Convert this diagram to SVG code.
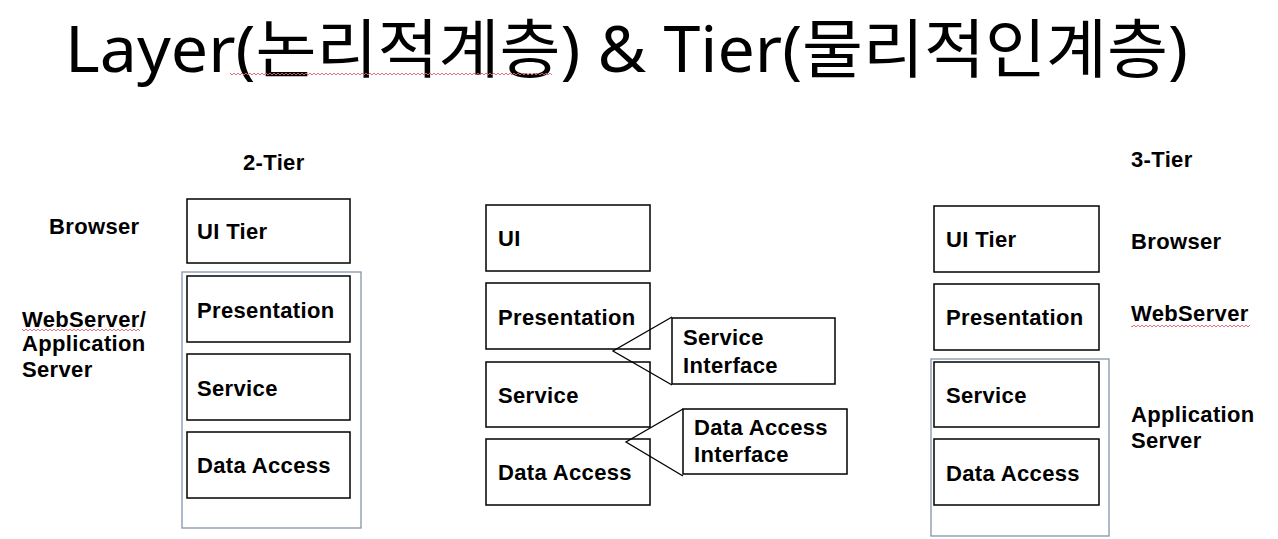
<svg xmlns="http://www.w3.org/2000/svg" width="1278" height="539" viewBox="0 0 1278 539">
<style>
.bg{fill:#ffffff}
.box{fill:#ffffff;stroke:#000000;stroke-width:1.5}
.outer{fill:none;stroke:#8496ad;stroke-width:1.3}
.lbl{font-family:"Liberation Sans","Noto Sans",sans-serif;font-weight:bold;font-size:22px;letter-spacing:0.35px;fill:#000000}
.title{font-family:"Noto Sans","Noto Sans CJK KR",sans-serif;font-size:64px;fill:#000000}
.conn{fill:none;stroke:#000000;stroke-width:1.3}
</style>
<defs>
<pattern id="wave" width="4" height="4" patternUnits="userSpaceOnUse">
<path d="M0,3 L2,1 L4,3" fill="none" stroke="#e06070" stroke-width="0.9"/>
</pattern>
</defs>
<rect class="bg" x="0" y="0" width="1278" height="539"/>
<g id="title">
<text class="title" x="65" y="72" textLength="1123" lengthAdjust="spacingAndGlyphs"><tspan font-family="Noto Sans, sans-serif">Layer(</tspan><tspan font-family="Noto Sans CJK KR, sans-serif">논리적계층</tspan><tspan font-family="Noto Sans, sans-serif">) &amp; Tier(</tspan><tspan font-family="Noto Sans CJK KR, sans-serif">물리적인계층</tspan><tspan font-family="Noto Sans, sans-serif">)</tspan></text>
<rect x="230" y="73" width="322" height="4" fill="url(#wave)"/>
</g>
<g id="two-tier">
<text class="lbl" x="243" y="170">2-Tier</text>
<text class="lbl" x="49" y="234">Browser</text>
<text class="lbl" x="22" y="327">WebServer/</text>
<rect x="22" y="329" width="118" height="4" fill="url(#wave)"/>
<text class="lbl" x="22" y="351">Application</text>
<text class="lbl" x="22" y="377">Server</text>
<rect class="outer" x="182" y="272" width="179" height="256"/>
<g id="l-ui"><rect class="box" x="187" y="199" width="163" height="64"/><text class="lbl" x="197" y="239">UI Tier</text></g>
<g id="l-pres"><rect class="box" x="187" y="276" width="163" height="66"/><text class="lbl" x="197" y="318">Presentation</text></g>
<g id="l-svc"><rect class="box" x="187" y="354" width="163" height="66"/><text class="lbl" x="197" y="396">Service</text></g>
<g id="l-da"><rect class="box" x="187" y="432" width="163" height="66"/><text class="lbl" x="197" y="473">Data Access</text></g>
</g>
<g id="layers">
<g id="m-ui"><rect class="box" x="486" y="205" width="164" height="66"/><text class="lbl" x="498" y="246">UI</text></g>
<g id="m-pres"><rect class="box" x="486" y="283" width="164" height="66"/><text class="lbl" x="498" y="325">Presentation</text></g>
<g id="m-svc"><rect class="box" x="486" y="362" width="164" height="65"/><text class="lbl" x="498" y="403">Service</text></g>
<g id="m-da"><rect class="box" x="486" y="439" width="164" height="66"/><text class="lbl" x="498" y="480">Data Access</text></g>
<g id="svc-if"><rect class="box" x="672" y="318" width="163" height="66"/><text class="lbl" x="683" y="345">Service</text><text class="lbl" x="683" y="373">Interface</text></g>
<g id="da-if"><rect class="box" x="683" y="409" width="164" height="65"/><text class="lbl" x="694" y="435">Data Access</text><text class="lbl" x="694" y="462">Interface</text></g>
</g>
<g id="connectors">
<path class="conn" d="M672,317 L613,351 L672,385"/>
<path class="conn" d="M683,409 L626,442 L683,476"/>
</g>
<g id="three-tier">
<text class="lbl" x="1131" y="167">3-Tier</text>
<text class="lbl" x="1131" y="249">Browser</text>
<text class="lbl" x="1131" y="321">WebServer</text>
<rect x="1131" y="324" width="119" height="4" fill="url(#wave)"/>
<text class="lbl" x="1131" y="422">Application</text>
<text class="lbl" x="1131" y="448">Server</text>
<rect class="outer" x="931" y="359" width="178" height="177"/>
<g id="r-ui"><rect class="box" x="934" y="206" width="165" height="66"/><text class="lbl" x="946" y="247">UI Tier</text></g>
<g id="r-pres"><rect class="box" x="934" y="284" width="165" height="66"/><text class="lbl" x="946" y="325">Presentation</text></g>
<g id="r-svc"><rect class="box" x="934" y="362" width="165" height="65"/><text class="lbl" x="946" y="403">Service</text></g>
<g id="r-da"><rect class="box" x="934" y="439" width="165" height="66"/><text class="lbl" x="946" y="481">Data Access</text></g>
</g>
</svg>
